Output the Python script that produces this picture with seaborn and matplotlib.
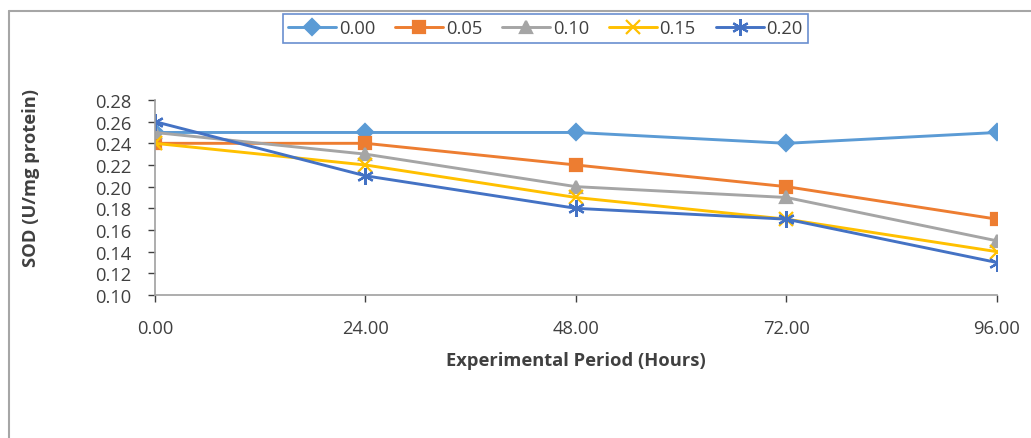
import matplotlib
matplotlib.use("Agg")
import matplotlib.pyplot as plt
from matplotlib.lines import Line2D
import seaborn as sns
import pandas as pd

hours = [0, 24, 48, 72, 96]
x_tick_labels = ["0.00", "24.00", "48.00", "72.00", "96.00"]
series_names = ["0.00", "0.05", "0.10", "0.15", "0.20"]
sod_000 = [0.25, 0.25, 0.25, 0.24, 0.25]
sod_005 = [0.24, 0.24, 0.22, 0.20, 0.17]
sod_010 = [0.25, 0.23, 0.20, 0.19, 0.15]
sod_015 = [0.24, 0.22, 0.19, 0.17, 0.14]
sod_020 = [0.26, 0.21, 0.18, 0.17, 0.13]
y_ticks = [0.10, 0.12, 0.14, 0.16, 0.18, 0.20, 0.22, 0.24, 0.26, 0.28]

colors = ["#5B9BD5", "#ED7D31", "#A5A5A5", "#FFC000", "#4472C4"]
markers = ["D", "s", "^", "x", (6, 2, 0)]
msizes = [8, 9, 9, 10, 12]

rows = []
for name, vals in zip(series_names, [sod_000, sod_005, sod_010, sod_015, sod_020]):
    for h, v in zip(hours, vals):
        rows.append({"Hours": h, "SOD": v, "Group": name})
df = pd.DataFrame(rows)

sns.set_theme(style="white")
plt.rcParams["font.family"] = ["Open Sans", "DejaVu Sans"]

FS = 13.2
TXT = "#404040"

fig = plt.figure(figsize=(10.31, 4.39), dpi=100)
ax = fig.add_axes([0.1503, 0.3257, 0.8167, 0.4443])

for name, c, m, ms in zip(series_names, colors, markers, msizes):
    sub = df[df["Group"] == name]
    sns.lineplot(data=sub, x="Hours", y="SOD", ax=ax, color=c, marker=m,
                 markersize=ms, markeredgecolor=c, markerfacecolor=c,
                 markeredgewidth=1.6, linewidth=2.1, legend=False)

ax.set_xlim(0, 96)
ax.set_ylim(0.10, 0.28)
ax.set_xticks(hours)
ax.set_xticklabels(x_tick_labels)
ax.set_yticks(y_ticks)
ax.set_yticklabels([f"{t:.2f}" for t in y_ticks])
ax.tick_params(axis="both", labelsize=FS, colors=TXT, length=5, width=1,
               direction="out", bottom=True, left=True)
ax.tick_params(axis="x", pad=12)
ax.tick_params(axis="y", pad=12)
for t in ax.get_xticklines() + ax.get_yticklines():
    t.set_color("#A0A0A0")
for s in ["top", "right"]:
    ax.spines[s].set_visible(False)
for s in ["left", "bottom"]:
    ax.spines[s].set_color("#A0A0A0")
    ax.spines[s].set_linewidth(1.2)
ax.set_xlabel("Experimental Period (Hours)", fontsize=FS, fontweight="bold", color=TXT)
ax.xaxis.set_label_coords(0.5, -0.285)
ax.set_ylabel("SOD (U/mg protein)", fontsize=FS, fontweight="bold", color=TXT)
ax.yaxis.set_label_coords(-0.137, 0.605)

handles = [Line2D([0], [0], color=c, marker=m, markersize=ms, markeredgecolor=c,
                  markerfacecolor=c, markeredgewidth=1.6, linewidth=2.1)
           for c, m, ms in zip(colors, markers, msizes)]
leg = fig.legend(handles, series_names, loc="center", bbox_to_anchor=(545.5 / 1031, 1 - 29 / 439),
                 ncol=5, frameon=True, fancybox=False, fontsize=FS, handlelength=2.6,
                 columnspacing=1.1, handletextpad=0.15, borderpad=0.3)
leg.get_frame().set_edgecolor("#4472C4")
leg.get_frame().set_linewidth(1.2)
for t in leg.get_texts():
    t.set_color(TXT)

# chart-area border lines (left and top)
fig.add_artist(Line2D([9 / 1031, 9 / 1031], [0, 1 - 12 / 439], transform=fig.transFigure,
                      color="#A6A6A6", linewidth=1.5))
fig.add_artist(Line2D([9 / 1031, 1], [1 - 12 / 439, 1 - 12 / 439], transform=fig.transFigure,
                      color="#A6A6A6", linewidth=1.5))

fig.savefig("out.png", dpi=100)
